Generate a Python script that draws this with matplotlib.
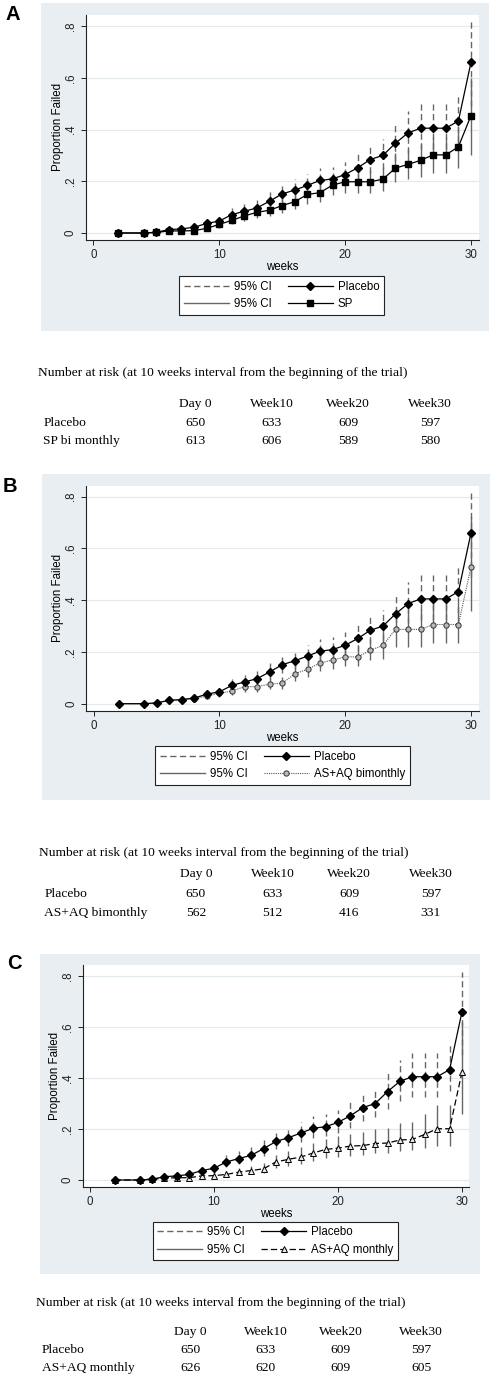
import matplotlib
matplotlib.use('Agg')
import matplotlib.pyplot as plt
from matplotlib.patches import Rectangle
from matplotlib.lines import Line2D

plt.rcParams['font.family'] = ['Liberation Sans', 'DejaVu Sans']

W, H = 493, 1378

# weeks of follow-up
weeks = [2, 4] + list(range(5, 31))

# placebo arm (same in every panel)
placebo = [0, 0, 0.003, 0.013, 0.016, 0.022, 0.037, 0.046, 0.071, 0.084, 0.097, 0.123, 0.151, 0.166,
           0.184, 0.203, 0.209, 0.226, 0.252, 0.284, 0.300, 0.347, 0.387, 0.405, 0.405, 0.405, 0.433, 0.660]
placebo_lo = [0, 0, 0.0, 0.007, 0.009, 0.013, 0.025, 0.032, 0.052, 0.063, 0.074, 0.096, 0.12, 0.133,
              0.149, 0.166, 0.171, 0.186, 0.205, 0.233, 0.248, 0.279, 0.31, 0.325, 0.325, 0.325, 0.35, 0.49]
placebo_hi = [0, 0, 0.01, 0.025, 0.028, 0.036, 0.055, 0.067, 0.097, 0.112, 0.128, 0.158, 0.19, 0.207,
              0.228, 0.25, 0.257, 0.276, 0.307, 0.345, 0.362, 0.422, 0.472, 0.497, 0.497, 0.497, 0.533, 0.815]

# SP bi monthly
sp = [0, 0, 0.002, 0.008, 0.008, 0.009, 0.018, 0.033, 0.049, 0.066, 0.080, 0.088, 0.106, 0.121,
      0.149, 0.156, 0.185, 0.198, 0.198, 0.198, 0.208, 0.251, 0.265, 0.281, 0.302, 0.302, 0.333, 0.454]
sp_lo = [0, 0, 0, 0.003, 0.003, 0.004, 0.01, 0.02, 0.033, 0.046, 0.058, 0.064, 0.079, 0.091,
         0.113, 0.119, 0.145, 0.156, 0.156, 0.156, 0.164, 0.196, 0.207, 0.218, 0.232, 0.232, 0.25, 0.3]
sp_hi = [0, 0, 0.006, 0.017, 0.017, 0.019, 0.031, 0.051, 0.07, 0.091, 0.107, 0.116, 0.138, 0.155,
         0.188, 0.196, 0.228, 0.243, 0.243, 0.243, 0.255, 0.308, 0.325, 0.345, 0.37, 0.37, 0.41, 0.6]

# AS+AQ bimonthly
aq2 = [0, 0, 0.003, 0.013, 0.015, 0.019, 0.03, 0.04, 0.049, 0.066, 0.066, 0.076, 0.079, 0.116,
       0.133, 0.157, 0.169, 0.181, 0.181, 0.206, 0.226, 0.287, 0.287, 0.287, 0.306, 0.306, 0.306, 0.529]
aq2_lo = [0, 0, 0, 0.006, 0.007, 0.01, 0.018, 0.026, 0.033, 0.047, 0.047, 0.055, 0.057, 0.089,
          0.104, 0.125, 0.135, 0.146, 0.146, 0.168, 0.172, 0.219, 0.219, 0.219, 0.233, 0.233, 0.233, 0.357]
aq2_hi = [0, 0, 0.009, 0.024, 0.027, 0.031, 0.046, 0.058, 0.07, 0.09, 0.09, 0.101, 0.105, 0.149,
          0.168, 0.195, 0.209, 0.222, 0.222, 0.25, 0.29, 0.365, 0.365, 0.365, 0.39, 0.39, 0.39, 0.72]

# AS+AQ monthly
aq1 = [0, 0, 0.003, 0.007, 0.009, 0.009, 0.016, 0.017, 0.022, 0.031, 0.037, 0.044, 0.071, 0.081,
       0.09, 0.106, 0.12, 0.125, 0.133, 0.135, 0.143, 0.145, 0.157, 0.159, 0.179, 0.201, 0.201, 0.423]
aq1_lo = [0, 0, 0, 0.002, 0.003, 0.003, 0.008, 0.009, 0.012, 0.019, 0.024, 0.029, 0.048, 0.055,
          0.061, 0.075, 0.086, 0.09, 0.096, 0.098, 0.104, 0.105, 0.114, 0.116, 0.124, 0.133, 0.133, 0.258]
aq1_hi = [0, 0, 0.008, 0.015, 0.018, 0.018, 0.029, 0.03, 0.037, 0.048, 0.056, 0.065, 0.1, 0.114,
          0.128, 0.145, 0.16, 0.172, 0.182, 0.187, 0.199, 0.203, 0.225, 0.228, 0.258, 0.293, 0.293, 0.62]

# number at risk tables
risk_cols = ['Day 0', 'Week10', 'Week20', 'Week30']
risk_placebo = [650, 633, 609, 597]
risk_sp = [613, 606, 589, 580]
risk_aq2 = [562, 512, 416, 331]
risk_aq1 = [626, 620, 609, 605]

BG = '#e8eef1'
GRID = '#e2eaed'
CI_COL = '#666666'

fig = plt.figure(figsize=(W / 100, H / 100), dpi=100)


def fx(x):
    return x / W


def fy(y):
    return 1 - y / H


def background(x0, y0, x1, y1):
    fig.add_artist(Rectangle((fx(x0), fy(y1)), fx(x1 - x0), (y1 - y0) / H,
                             transform=fig.transFigure, facecolor=BG, edgecolor='none', zorder=-5))


def panel(x0, x30, y0, y8, trt, trt_lo, trt_hi, trt_label, trt_style, leg_xy):
    # axes placed from pixel positions of x=0, x=30, y=0, y=.8
    pxw = (x30 - x0) / 30
    pyu = (y0 - y8) / 0.8
    xl, xr = -0.6, 30.6
    yb, yt = -0.027, 0.843
    left = x0 + xl * pxw
    right = x0 + xr * pxw
    bottom = y0 - yb * pyu
    top = y0 - yt * pyu
    ax = fig.add_axes([fx(left), fy(bottom), (right - left) / W, (bottom - top) / H])
    ax.set_facecolor('white')
    ax.set_xlim(xl, xr)
    ax.set_ylim(yb, yt)
    for s in ['top', 'right']:
        ax.spines[s].set_visible(False)
    for s in ['left', 'bottom']:
        ax.spines[s].set_linewidth(0.8)
        ax.spines[s].set_color('#222222')
    ax.set_xticks([0, 10, 20, 30])
    ax.set_yticks([0, 0.2, 0.4, 0.6, 0.8])
    ax.set_yticklabels(['0', '.2', '.4', '.6', '.8'], rotation=90, va='center')
    ax.tick_params(axis='both', direction='out', length=3.5, width=0.7, labelsize=8.3, colors='#222222')
    ax.tick_params(axis='x', pad=3)
    ax.tick_params(axis='y', pad=3)
    ax.grid(axis='y', color=GRID, linewidth=0.9)
    ax.set_axisbelow(True)
    ax.set_xlabel('weeks', fontsize=8.3, labelpad=0)
    ax.set_ylabel('Proportion Failed', fontsize=8.3, labelpad=0.5)

    ax.vlines(weeks, placebo_lo, placebo_hi, colors=CI_COL, linewidth=1.0,
              linestyles=(0, (4.5, 2.5)), zorder=2)
    ax.vlines(weeks, trt_lo, trt_hi, colors=CI_COL, linewidth=1.0, zorder=2)
    ax.plot(weeks, placebo, color='black', linewidth=0.9, marker='D', markersize=4.4, zorder=4)
    ax.plot(weeks, trt, zorder=3, **trt_style)

    handles = [Line2D([], [], color=CI_COL, linewidth=1.0, linestyle=(0, (4.5, 2.5))),
               Line2D([], [], color=CI_COL, linewidth=1.0),
               Line2D([], [], color='black', linewidth=0.9, marker='D', markersize=4.4),
               Line2D([], [], **trt_style)]
    labels = ['95% CI', '95% CI', 'Placebo', trt_label]
    leg = ax.legend(handles, labels, ncol=2, loc='center', bbox_to_anchor=(fx(leg_xy[0]), fy(leg_xy[1])),
                    bbox_transform=fig.transFigure, fontsize=8.3, fancybox=False, framealpha=1,
                    edgecolor='#222222', handlelength=3.9, handletextpad=0.45, columnspacing=1.4,
                    labelspacing=0.45, borderpad=0.4, numpoints=1)
    leg.get_frame().set_linewidth(0.8)
    return ax


def risk_table(ytitle, yhead, yrow1, yrow2, xtitle, xlab, xcols, label2, vals2):
    kw = dict(fontsize=9.7, family='Liberation Serif', va='center', transform=fig.transFigure)
    fig.text(fx(xtitle), fy(ytitle), 'Number at risk (at 10 weeks interval from the beginning of the trial)', **kw)
    for xc, c in zip(xcols, risk_cols):
        fig.text(fx(xc), fy(yhead), c, ha='center', **kw)
    fig.text(fx(xlab), fy(yrow1), 'Placebo', **kw)
    fig.text(fx(xlab), fy(yrow2), label2, **kw)
    for xc, v1, v2 in zip(xcols, risk_placebo, vals2):
        fig.text(fx(xc), fy(yrow1), str(v1), ha='center', **kw)
        fig.text(fx(xc), fy(yrow2), str(v2), ha='center', **kw)


# ---- panel A
background(41, 3, 489, 331)
fig.text(fx(6), fy(14), 'A', fontsize=14.5, fontweight='bold', va='center')
panel(93.3, 471, 233, 26, sp, sp_lo, sp_hi, 'SP',
      dict(color='black', linewidth=0.9, marker='s', markersize=4.0), (281.5, 295.5))
risk_table(373.3, 404, 422.7, 441, 38.3, 43.3, [195.3, 272, 348.3, 430], 'SP bi monthly', risk_sp)

# ---- panel B
background(42, 474, 490, 800)
fig.text(fx(3), fy(486.5), 'B', fontsize=14.5, fontweight='bold', va='center')
panel(93.7, 471, 703.7, 496.7, aq2, aq2_lo, aq2_hi, 'AS+AQ bimonthly',
      dict(color='#555555', linewidth=0.8, linestyle=(0, (1, 1)), marker='o', markersize=3.8,
           markerfacecolor='#b8b8b8', markeredgecolor='#333333', markeredgewidth=0.7), (282.5, 765.5))
risk_table(853.3, 874.3, 894, 912.7, 39.3, 44.3, [196, 272.7, 349.3, 430.7], 'AS+AQ bimonthly', risk_aq2)

# ---- panel C
background(40, 954, 480, 1274)
fig.text(fx(7), fy(963.5), 'C', fontsize=14.5, fontweight='bold', va='center')
panel(90, 462, 1180, 976, aq1, aq1_lo, aq1_hi, 'AS+AQ monthly',
      dict(color='black', linewidth=0.9, linestyle=(0, (5, 2.5)), marker='^', markersize=4.4,
           markerfacecolor='#e8e8e8', markeredgecolor='black', markeredgewidth=0.7), (275.5, 1241))
risk_table(1302.7, 1332, 1350, 1368, 36, 41.7, [190.7, 265.7, 340.7, 421], 'AS+AQ monthly', risk_aq1)

fig.savefig('out.png', dpi=100)
